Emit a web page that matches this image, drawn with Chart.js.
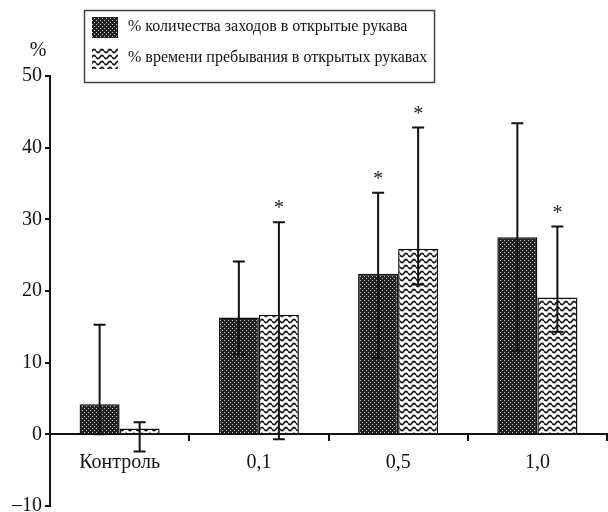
<!DOCTYPE html>
<html lang="ru">
<head>
  <meta charset="UTF-8" />
  <title>Открытые рукава</title>
  <script src="https://cdn.jsdelivr.net/npm/chart.js"></script>
  <style>
    html, body { margin: 0; padding: 0; background: #ffffff; }
    #wrap { width: 608px; height: 512px; }
  </style>
</head>
<body>
  <div id="wrap"><canvas id="chart" width="608" height="512"></canvas></div>

  <script>
    // data
    const doses = ['Контроль', '0,1', '0,5', '1,0'];
    const seriesNames = ['% количества заходов в открытые рукава', '% времени пребывания в открытых рукавах'];

    const entries = [4.2, 16.3, 22.4, 27.5];
    const entriesHigh = [15.3, 24.1, 33.7, 43.4];
    const entriesLow = [0, 11.2, 10.7, 11.6];
    const entriesStar = [false, false, true, false];

    const timeOpen = [0.8, 16.7, 25.9, 19.1];
    const timeHigh = [1.7, 29.6, 42.8, 29.0];
    const timeLow = [-2.4, -0.7, 20.9, 14.3];
    const timeStar = [false, true, true, true];

    const yTicks = [-10, 0, 10, 20, 30, 40, 50];

    const FONT = "'Liberation Serif', 'DejaVu Serif', serif";

    function darkPattern() {
      const c = document.createElement('canvas');
      c.width = 4; c.height = 4;
      const g = c.getContext('2d');
      g.fillStyle = '#222222';
      g.fillRect(0, 0, 4, 4);
      g.fillStyle = '#c4c4c4';
      g.fillRect(0, 0, 1, 1);
      g.fillRect(2, 2, 1, 1);
      return g.createPattern(c, 'repeat');
    }

    function wavePattern() {
      const c = document.createElement('canvas');
      c.width = 8; c.height = 6;
      const g = c.getContext('2d');
      g.fillStyle = '#ffffff';
      g.fillRect(0, 0, 8, 6);
      g.strokeStyle = '#111111';
      g.lineWidth = 1.6;
      g.beginPath();
      for (let x = 0; x <= 8; x += 0.5) {
        const y = 3 + 1.6 * Math.sin(x / 8 * Math.PI * 2);
        if (x === 0) g.moveTo(x, y); else g.lineTo(x, y);
      }
      g.stroke();
      return g.createPattern(c, 'repeat');
    }

    const errors = [
      { hi: entriesHigh, lo: entriesLow, star: entriesStar },
      { hi: timeHigh, lo: timeLow, star: timeStar }
    ];

    // error bars + significance stars
    const errorBars = {
      id: 'errorBars',
      afterDatasetsDraw(chart) {
        const ctx = chart.ctx;
        const y = chart.scales.y;
        ctx.save();
        ctx.strokeStyle = '#111';
        ctx.lineWidth = 2;
        errors.forEach((e, di) => {
          chart.getDatasetMeta(di).data.forEach((bar, i) => {
            const x = bar.x;
            const yh = y.getPixelForValue(e.hi[i]);
            const yl = y.getPixelForValue(e.lo[i]);
            ctx.beginPath();
            ctx.moveTo(x, yh); ctx.lineTo(x, yl);
            ctx.moveTo(x - 6, yh); ctx.lineTo(x + 6, yh);
            ctx.moveTo(x - 6, yl); ctx.lineTo(x + 6, yl);
            ctx.stroke();
            if (e.star[i]) {
              ctx.fillStyle = '#222';
              ctx.font = '20px ' + FONT;
              ctx.textAlign = 'center';
              ctx.textBaseline = 'alphabetic';
              ctx.fillText('*', x, yh - 8);
            }
          });
        });
        ctx.restore();
      }
    };

    // boxed legend and the % unit label
    const boxLegend = {
      id: 'boxLegend',
      afterDraw(chart) {
        const ctx = chart.ctx;
        ctx.save();
        ctx.strokeStyle = '#444';
        ctx.lineWidth = 1.5;
        ctx.strokeRect(84.5, 10.5, 350, 72);
        const rows = [27, 58];
        chart.data.datasets.forEach((ds, i) => {
          ctx.fillStyle = ds.backgroundColor;
          ctx.fillRect(92, rows[i] - 10, 26, 21);
          ctx.fillStyle = '#111';
          ctx.font = '16px ' + FONT;
          ctx.textAlign = 'left';
          ctx.textBaseline = 'middle';
          ctx.fillText(ds.label, 128, rows[i]);
        });
        ctx.font = '20px ' + FONT;
        ctx.textAlign = 'center';
        ctx.fillText('%', 38, 51);
        ctx.restore();
      }
    };

    const ctx = document.getElementById('chart').getContext('2d');

    new Chart(ctx, {
      type: 'bar',
      data: {
        labels: doses,
        datasets: [
          {
            label: seriesNames[0],
            data: entries,
            backgroundColor: darkPattern(),
            borderColor: '#111',
            borderWidth: 1.5,
            categoryPercentage: 0.575,
            barPercentage: 1.0
          },
          {
            label: seriesNames[1],
            data: timeOpen,
            backgroundColor: wavePattern(),
            borderColor: '#111',
            borderWidth: 1.5,
            categoryPercentage: 0.575,
            barPercentage: 1.0
          }
        ]
      },
      options: {
        responsive: false,
        animation: false,
        layout: { padding: { top: 76, bottom: 6, left: 0, right: 1 } },
        plugins: {
          legend: { display: false },
          tooltip: { enabled: false }
        },
        scales: {
          x: {
            position: { y: 0 },
            afterFit: s => { s.height = 0; s.paddingLeft = 0; s.paddingRight = 0; },
            border: { display: true, color: '#111', width: 2 },
            grid: { drawOnChartArea: false, offset: true, tickLength: 6, color: '#111', lineWidth: 2 },
            ticks: { color: '#111', font: { family: FONT, size: 20 }, padding: 10 }
          },
          y: {
            min: -10,
            max: 50,
            afterFit: s => { s.width = 50; s.paddingTop = 0; s.paddingBottom = 0; },
            afterBuildTicks: s => { s.ticks = yTicks.map(v => ({ value: v })); },
            border: { display: true, color: '#111', width: 2 },
            grid: { drawOnChartArea: false, tickLength: 5, color: '#111', lineWidth: 2 },
            ticks: {
              color: '#111',
              font: { family: FONT, size: 20 },
              padding: 3,
              callback: v => v < 0 ? '\u2013' + Math.abs(v) : String(v)
            }
          }
        }
      },
      plugins: [errorBars, boxLegend]
    });
  </script>
</body>
</html>
